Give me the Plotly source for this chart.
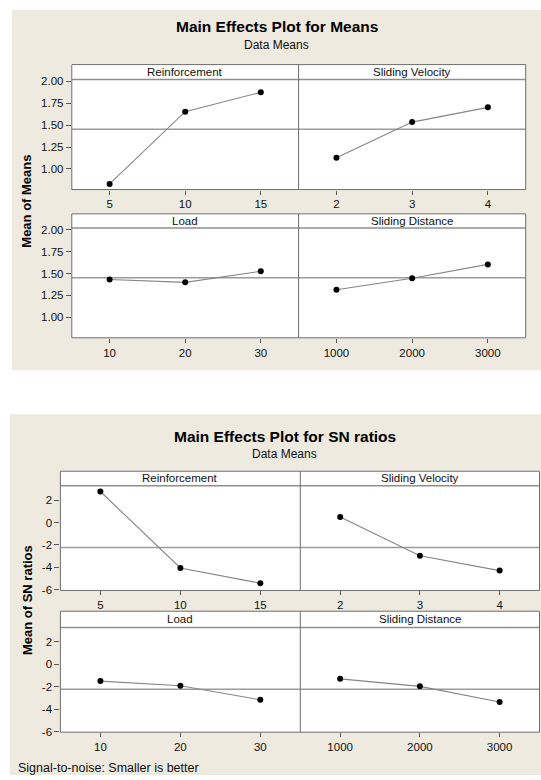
import numpy as np
import plotly.graph_objects as go

# ---------------- data ----------------
factors = ["Reinforcement", "Sliding Velocity", "Load", "Sliding Distance"]
reinforcement_levels = [5, 10, 15]
velocity_levels = [2, 3, 4]
load_levels = [10, 20, 30]
distance_levels = [1000, 2000, 3000]

means_reinforcement = [0.83, 1.653, 1.873]
means_velocity = [1.127, 1.534, 1.702]
means_load = [1.432, 1.400, 1.526]
means_distance = [1.315, 1.447, 1.605]

sn_reinforcement = [2.77, -4.05, -5.41]
sn_velocity = [0.50, -2.97, -4.29]
sn_load = [-1.50, -1.91, -3.17]
sn_distance = [-1.30, -1.97, -3.37]

means_yticks = [1.00, 1.25, 1.50, 1.75, 2.00]
means_yticklabels = ["1.00", "1.25", "1.50", "1.75", "2.00"]
sn_yticks = [-6, -4, -2, 0, 2]
sn_yticklabels = ["-6", "-4", "-2", "0", "2"]

chart1_title = "Main Effects Plot for Means"
chart1_ylabel = "Mean of Means"
chart2_title = "Main Effects Plot for SN ratios"
chart2_ylabel = "Mean of SN ratios"
subtitle = "Data Means"
footnote = "Signal-to-noise: Smaller is better"

# ---------------- layout constants (pixels) ----------------
W, H = 541, 780
FONT = "Liberation Sans, Arial, sans-serif"
BEIGE = "#EEEAE0"
BORDER = "#6e6e6e"
STRIPLINE = "#8f8f8f"
REFLINE = "#9c9c9c"
DATALINE = "#858585"


def px_x(x):
    return x / W


def px_y(y):
    return 1 - y / H


levels_list = [reinforcement_levels, velocity_levels, load_levels, distance_levels]

charts = [
    dict(values=[means_reinforcement, means_velocity, means_load, means_distance],
         yticks=means_yticks, yticklabels=means_yticklabels, yrange=[0.766, 2.02],
         title=chart1_title, ylabel=chart1_ylabel,
         beige=(12, 6, 541, 370.5), cols=(71.8, 298.6, 525.7),
         rows=[(61.3, 76.3, 187.7), (212.3, 226.7, 337.7)],
         title_xy=(276.5, 23), sub_y=41, ylab_xy=(27, 200)),
    dict(values=[sn_reinforcement, sn_velocity, sn_load, sn_distance],
         yticks=sn_yticks, yticklabels=sn_yticklabels, yrange=[-6.06, 3.29],
         title=chart2_title, ylabel=chart2_ylabel,
         beige=(10, 415, 541, 780), cols=(60.4, 300.3, 539.5),
         rows=[(472.7, 487.3, 593.3), (614.3, 630.7, 736.7)],
         title_xy=(284.5, 437.7), sub_y=455, ylab_xy=(27, 603)),
]

fig = go.Figure()
shapes = []
annotations = []
layout_axes = {}

axis_idx = 0
for ch in charts:
    bx0, by0, bx1, by1 = ch["beige"]
    shapes.append(dict(type="rect", xref="paper", yref="paper",
                       x0=px_x(bx0), x1=px_x(bx1), y0=px_y(by1), y1=px_y(by0),
                       fillcolor=BEIGE, line=dict(width=0), layer="below"))
    tx, ty = ch["title_xy"]
    annotations.append(dict(text="<b>" + ch["title"] + "</b>", xref="paper", yref="paper",
                            x=px_x(tx), y=px_y(ty), xanchor="center", yanchor="middle",
                            showarrow=False, font=dict(family=FONT, size=15.5, color="#000")))
    annotations.append(dict(text=subtitle, xref="paper", yref="paper",
                            x=px_x(tx), y=px_y(ch["sub_y"]), xanchor="center", yanchor="middle",
                            showarrow=False, font=dict(family=FONT, size=12, color="#111")))
    lx, ly = ch["ylab_xy"]
    annotations.append(dict(text="<b>" + ch["ylabel"] + "</b>", xref="paper", yref="paper",
                            x=px_x(lx), y=px_y(ly), xanchor="center", yanchor="middle",
                            textangle=-90, showarrow=False,
                            font=dict(family=FONT, size=13, color="#000")))
    allvals = np.concatenate([np.asarray(v, dtype=float) for v in ch["values"]])
    grand = float(allvals.mean())

    cl, cm, cr = ch["cols"]
    for r, (rtop, rstrip, rbot) in enumerate(ch["rows"]):
        shapes.append(dict(type="rect", xref="paper", yref="paper",
                           x0=px_x(cl), x1=px_x(cr), y0=px_y(rbot), y1=px_y(rtop),
                           fillcolor="white", line=dict(width=0), layer="below"))
        for c in range(2):
            f = r * 2 + c
            axis_idx += 1
            sfx = "" if axis_idx == 1 else str(axis_idx)
            x0p, x1p = (cl, cm) if c == 0 else (cm, cr)
            cats = [str(v) for v in levels_list[f]]
            layout_axes["xaxis" + sfx] = dict(
                domain=[px_x(x0p), px_x(x1p)], anchor="y" + sfx,
                type="category", categoryorder="array", categoryarray=cats,
                range=[-0.5, 2.5], showgrid=False, zeroline=False, showline=False,
                ticks="outside", ticklen=4, tickwidth=1, tickcolor="#555",
                tickfont=dict(family=FONT, size=11.5, color="#111"), fixedrange=True)
            layout_axes["yaxis" + sfx] = dict(
                domain=[px_y(rbot), px_y(rstrip)], anchor="x" + sfx,
                range=ch["yrange"], showgrid=False, zeroline=False, showline=False,
                tickvals=ch["yticks"], ticktext=ch["yticklabels"],
                ticks="outside" if c == 0 else "", ticklen=5, tickwidth=1, tickcolor="#555",
                showticklabels=(c == 0),
                tickfont=dict(family=FONT, size=11.5, color="#111"), fixedrange=True)
            shapes.append(dict(type="line", xref="x" + sfx + " domain", yref="y" + sfx,
                               x0=0, x1=1, y0=grand, y1=grand,
                               line=dict(color=REFLINE, width=1.5), layer="below"))
            fig.add_trace(go.Scatter(
                x=cats, y=ch["values"][f], xaxis="x" + sfx, yaxis="y" + sfx,
                mode="lines+markers", line=dict(color=DATALINE, width=1.1),
                marker=dict(color="black", size=6), showlegend=False, hoverinfo="skip"))
            annotations.append(dict(text=factors[f], xref="paper", yref="paper",
                                    x=px_x((x0p + x1p) / 2), y=px_y((rtop + rstrip) / 2),
                                    xanchor="center", yanchor="middle", showarrow=False,
                                    font=dict(family=FONT, size=11.5, color="#111")))
        shapes.append(dict(type="line", xref="paper", yref="paper",
                           x0=px_x(cl), x1=px_x(cr), y0=px_y(rstrip), y1=px_y(rstrip),
                           line=dict(color=STRIPLINE, width=1.5), layer="above"))
        shapes.append(dict(type="line", xref="paper", yref="paper",
                           x0=px_x(cm), x1=px_x(cm), y0=px_y(rbot), y1=px_y(rtop),
                           line=dict(color=BORDER, width=1), layer="above"))
        shapes.append(dict(type="rect", xref="paper", yref="paper",
                           x0=px_x(cl), x1=px_x(cr), y0=px_y(rbot), y1=px_y(rtop),
                           line=dict(color=BORDER, width=1), layer="above"))

annotations.append(dict(text=footnote, xref="paper", yref="paper",
                        x=px_x(15.5), y=px_y(772.7), xanchor="left", yanchor="middle",
                        showarrow=False, font=dict(family=FONT, size=12.5, color="#111")))

fig.update_layout(
    width=W, height=H, margin=dict(l=0, r=0, t=0, b=0),
    paper_bgcolor="white", plot_bgcolor="rgba(0,0,0,0)",
    shapes=shapes, annotations=annotations, showlegend=False,
    **layout_axes)

fig.write_html(
    "out.html",
    config={"displayModeBar": False, "staticPlot": True},
    post_script="document.body.style.margin='0';document.body.style.padding='0';"
                "document.body.style.overflow='hidden';",
)
